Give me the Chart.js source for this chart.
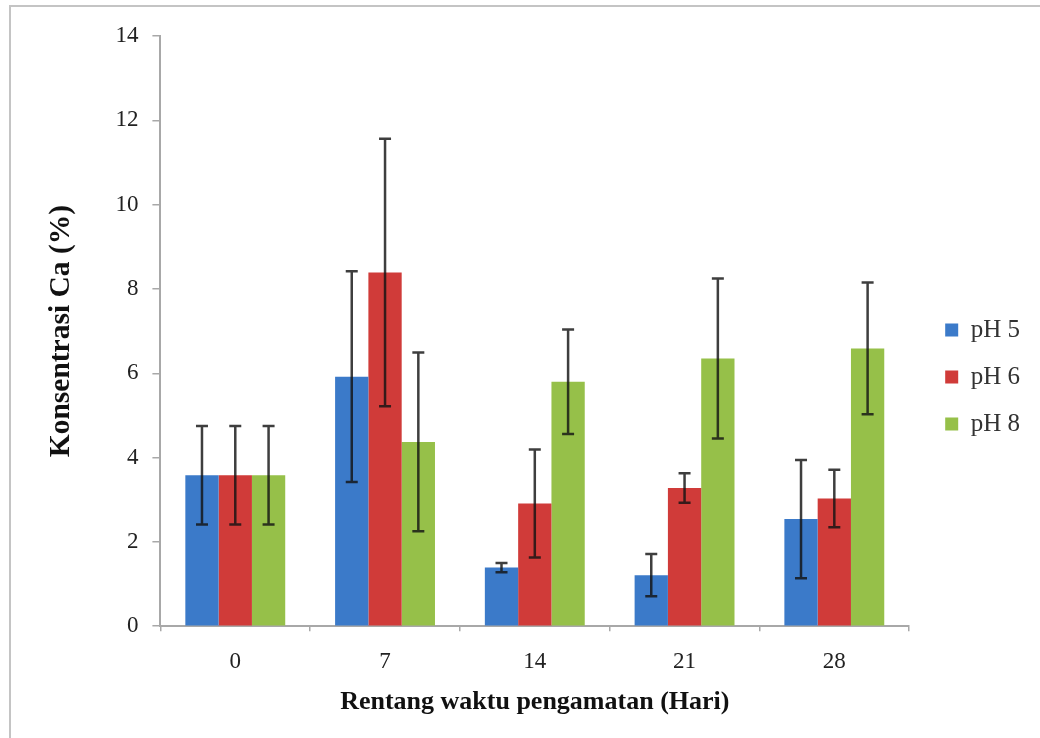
<!DOCTYPE html>
<html>
<head>
<meta charset="utf-8">
<script src="https://cdn.jsdelivr.net/npm/chart.js@4"></script>
<style>
  html, body { margin: 0; padding: 0; background: #fff; }
  #wrap { position: relative; width: 1040px; height: 738px; }
  #frame { position: absolute; left: 9px; top: 5px; right: -4px; bottom: -4px;
           border-left: 2px solid #c4c4c4; border-top: 2px solid #c4c4c4; pointer-events: none; }
  canvas { position: absolute; left: 0; top: 0; }
</style>
</head>
<body>
<div id="wrap">
  <canvas id="c" width="1040" height="738"></canvas>
  <div id="frame"></div>
</div>
<script>
const categories = ['0', '7', '14', '21', '28'];
const seriesNames = ['pH 5', 'pH 6', 'pH 8'];
const ph5 = [3.58, 5.92, 1.39, 1.21, 2.54];
const ph6 = [3.58, 8.39, 2.91, 3.28, 3.03];
const ph8 = [3.58, 4.37, 5.80, 6.35, 6.59];
const err5 = [1.17, 2.50, 0.11, 0.50, 1.40];
const err6 = [1.17, 3.17, 1.28, 0.35, 0.68];
const err8 = [1.17, 2.12, 1.24, 1.90, 1.56];
const yTicks = [0, 2, 4, 6, 8, 10, 12, 14];
const xTitle = 'Rentang waktu pengamatan (Hari)';
const yTitle = 'Konsentrasi Ca (%)';

const colors = ['#3b7ac9', '#d03b39', '#96c049'];
const values = [ph5, ph6, ph8];
const errors = [err5, err6, err8];

const errorBars = {
  id: 'errorBars',
  afterDatasetsDraw(chart) {
    const ctx = chart.ctx;
    const ys = chart.scales.y;
    ctx.save();
    ctx.strokeStyle = 'rgba(20,20,20,0.82)';
    ctx.lineWidth = 2.5;
    chart.data.datasets.forEach((ds, i) => {
      const meta = chart.getDatasetMeta(i);
      meta.data.forEach((bar, j) => {
        const v = ds.data[j];
        const e = ds.errors[j];
        const yt = ys.getPixelForValue(v + e);
        const yb = ys.getPixelForValue(v - e);
        const x = bar.x;
        ctx.beginPath();
        ctx.moveTo(x, yt); ctx.lineTo(x, yb);
        ctx.moveTo(x - 6, yt); ctx.lineTo(x + 6, yt);
        ctx.moveTo(x - 6, yb); ctx.lineTo(x + 6, yb);
        ctx.stroke();
      });
    });
    ctx.restore();
  }
};

new Chart(document.getElementById('c'), {
  type: 'bar',
  data: {
    labels: categories,
    datasets: seriesNames.map((n, i) => ({
      label: n,
      data: values[i],
      errors: errors[i],
      backgroundColor: colors[i],
      borderWidth: 0,
      categoryPercentage: 0.667,
      barPercentage: 1.0
    }))
  },
  options: {
    responsive: false,
    animation: false,
    devicePixelRatio: 1,
    layout: { padding: { left: 44, top: 36, right: 10, bottom: 20 } },
    plugins: {
      tooltip: { enabled: false },
      legend: {
        position: 'right',
        labels: {
          boxWidth: 13,
          boxHeight: 13,
          padding: 22,
          color: '#333',
          font: { family: 'Liberation Serif', size: 25 }
        }
      }
    },
    scales: {
      x: {
        offset: true,
        grid: { display: true, drawOnChartArea: false, offset: true, drawTicks: true, tickLength: 5, color: '#a8a8a8', lineWidth: 1.5 },
        border: { display: true, color: '#a8a8a8', width: 2 },
        ticks: { color: '#222', padding: 17, font: { family: 'Liberation Serif', size: 23 } },
        title: { display: true, text: xTitle, color: '#111', padding: { top: -6, bottom: 0 },
                 font: { family: 'Liberation Serif', size: 26, weight: 'bold' } }
      },
      y: {
        min: 0, max: 14,
        afterBuildTicks(scale) { scale.ticks = yTicks.map(v => ({ value: v })); },
        grid: { display: true, drawOnChartArea: false, drawTicks: true, tickLength: 8, color: '#a8a8a8', lineWidth: 1.5 },
        border: { display: true, color: '#a8a8a8', width: 2 },
        ticks: { color: '#222', padding: 14, font: { family: 'Liberation Serif', size: 23 } },
        title: { display: true, text: yTitle, color: '#111', padding: { top: 0, bottom: 22 },
                 font: { family: 'Liberation Serif', size: 29.5, weight: 'bold' } }
      },
      gap: {
        type: 'linear', position: 'right', display: true,
        grid: { display: false }, border: { display: false }, ticks: { display: false },
        afterFit(scale) { scale.width = 14; }
      }
    }
  },
  plugins: [errorBars]
});
</script>
</body>
</html>
